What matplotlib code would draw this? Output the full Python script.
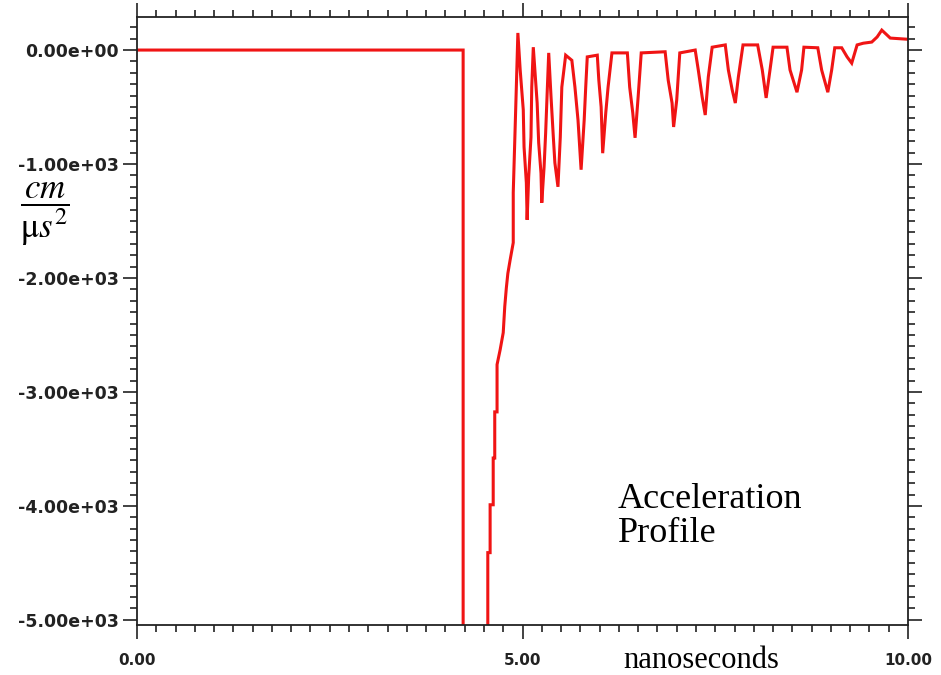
import numpy as np
import matplotlib.pyplot as plt
from matplotlib.ticker import FixedLocator, MultipleLocator

plt.rcParams['mathtext.fontset'] = 'stix'

# acceleration trace (time in ns, acceleration in cm/us^2)
time_ns = [0.00, 4.23, 4.23, 4.55, 4.55, 4.58, 4.58, 4.62, 4.62, 4.64, 4.64,
           4.67, 4.67, 4.71, 4.75, 4.77, 4.79, 4.81, 4.84, 4.88, 4.88, 4.90,
           4.92, 4.94, 4.97, 5.01, 5.02, 5.05, 5.06, 5.08, 5.11, 5.12, 5.14,
           5.19, 5.21, 5.24, 5.25, 5.28, 5.30, 5.32, 5.34, 5.37, 5.40, 5.42,
           5.46, 5.49, 5.51, 5.56, 5.64, 5.68, 5.72, 5.76, 5.80, 5.82, 5.84,
           5.97, 5.99, 6.02, 6.04, 6.08, 6.11, 6.16, 6.36, 6.39, 6.43, 6.46,
           6.50, 6.54, 6.85, 6.89, 6.94, 6.96, 7.00, 7.04, 7.24, 7.28, 7.33,
           7.37, 7.41, 7.46, 7.63, 7.67, 7.72, 7.76, 7.80, 7.86, 8.05, 8.11,
           8.16, 8.21, 8.25, 8.43, 8.47, 8.56, 8.62, 8.65, 8.83, 8.88, 8.96,
           9.01, 9.05, 9.14, 9.21, 9.27, 9.34, 9.42, 9.53, 9.60, 9.66, 9.77,
           9.99]
accel = [0, 0, -5200, -5200, -4410, -4410, -3990, -3990, -3580, -3580, -3175,
         -3175, -2760, -2630, -2480, -2250, -2090, -1960, -1840, -1690, -1250, -790,
         -325, 150, -175, -525, -850, -1165, -1490, -1115, -765, -325, 25,
         -465, -815, -1080, -1340, -1025, -730, -375, -25, -410, -765, -990,
         -1200, -765, -325, -45, -90, -325, -615, -1050, -615, -325, -60,
         -45, -265, -500, -905, -550, -325, -25, -25, -325, -550, -770,
         -410, -25, -15, -265, -465, -675, -440, -25, 0, -175, -410,
         -570, -235, 25, 45, -175, -350, -465, -235, 45, 45, -175,
         -420, -175, 25, 25, -175, -370, -175, 25, 20, -175, -370,
         -175, 20, 20, -60, -115, 45, 60, 70, 115, 175, 105,
         95]

y_ticks = [0, -1000, -2000, -3000, -4000, -5000]
y_tick_labels = ['0.00e+00', '-1.00e+03', '-2.00e+03', '-3.00e+03',
                 '-4.00e+03', '-5.00e+03']
x_ticks = [0, 5, 10]
x_tick_labels = ['0.00', '5.00', '10.00']

fig = plt.figure(figsize=(9.41, 6.75), dpi=100)
ax = fig.add_axes([137 / 941, 50 / 675, 771 / 941, 608 / 675])

ax.plot(time_ns, accel, color='#f01414', lw=2.2, solid_joinstyle='miter')

ax.set_xlim(0, 10)
ax.set_ylim(-5045, 290)

ax.xaxis.set_major_locator(FixedLocator(x_ticks))
ax.set_xticklabels(x_tick_labels, fontsize=11, fontweight='bold',
                   color='#222222')
ax.xaxis.set_minor_locator(MultipleLocator(0.25))
ax.yaxis.set_major_locator(FixedLocator(y_ticks))
ax.set_yticklabels(y_tick_labels, fontsize=12.5, fontweight='bold',
                   color='#222222')
ax.yaxis.set_minor_locator(MultipleLocator(100))

ax.tick_params(which='both', direction='out', top=True, right=True,
               width=1.2, color='#222222')
ax.tick_params(which='major', length=10)
ax.tick_params(which='minor', length=5)
ax.tick_params(axis='x', which='major', pad=10)
ax.tick_params(axis='y', which='major', pad=3)
for s in ax.spines.values():
    s.set_linewidth(1.3)
    s.set_color('#222222')

# units label on the left
fig.text(45 / 941, 1 - 214 / 675, r'$\dfrac{cm}{\mathrm{\mu} s^2}$',
         fontsize=25, ha='center', va='center')

fig.text(701 / 941, 1 - 668 / 675, 'nanoseconds', family='Liberation Serif',
         fontsize=22, ha='center', va='baseline')
fig.text(618 / 941, 1 - 542 / 675, 'Acceleration\nProfile',
         family='Liberation Serif', fontsize=26, ha='left', va='baseline',
         linespacing=1.05)

fig.savefig('out.png', dpi=100)
